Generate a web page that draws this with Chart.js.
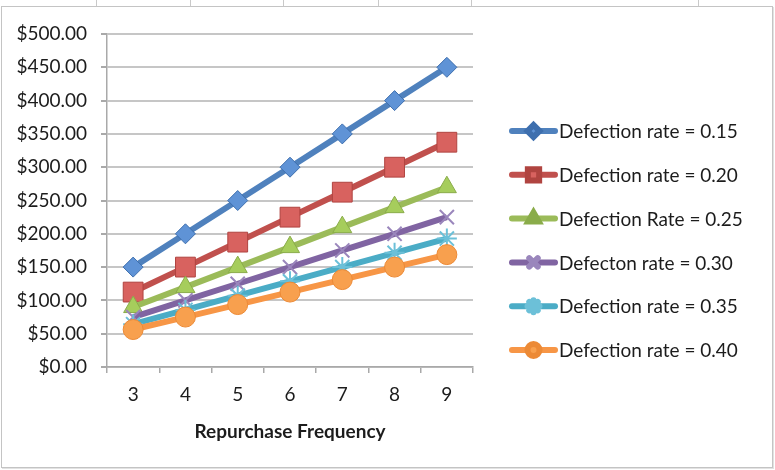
<!DOCTYPE html>
<html>
<head>
<meta charset="utf-8">
<script src="https://cdn.jsdelivr.net/npm/chart.js@4/dist/chart.umd.min.js"></script>
<style>
  html, body { margin: 0; padding: 0; background: #ffffff; }
  #wrap { position: relative; width: 775px; height: 470px; overflow: hidden; background: #fff; }
  .cell { position: absolute; top: 0; width: 1px; height: 6px; background: #c9c9c9; }
  #frame { position: absolute; left: 1px; top: 6px; width: 770px; height: 460px;
           border: 1px solid #c4c4c4; box-shadow: 1px 1px 0 #e2e2e2; }
  canvas { position: absolute; left: 0; top: 0; }
</style>
</head>
<body>
<div id="wrap">
  <div class="cell" style="left:96px"></div>
  <div class="cell" style="left:190px"></div>
  <div class="cell" style="left:283px"></div>
  <div class="cell" style="left:378px"></div>
  <div class="cell" style="left:471px"></div>
  <div class="cell" style="left:698px"></div>
  <div id="frame"></div>
  <canvas id="chart" width="775" height="470"></canvas>
</div>
<script>
// Repurchase frequency (x) and customer value (y) for each defection rate
const frequencies = ['3', '4', '5', '6', '7', '8', '9'];
const seriesNames = [
  'Defection rate = 0.15',
  'Defection rate = 0.20',
  'Defection Rate = 0.25',
  'Defecton rate = 0.30',
  'Defection rate = 0.35',
  'Defection rate = 0.40'
];
const rate15 = [150, 200, 250, 300, 350, 400, 450];
const rate20 = [112.5, 150, 187.5, 225, 262.5, 300, 337.5];
const rate25 = [90, 120, 150, 180, 210, 240, 270];
const rate30 = [75, 100, 125, 150, 175, 200, 225];
const rate35 = [64.29, 85.71, 107.14, 128.57, 150, 171.43, 192.86];
const rate40 = [56.25, 75, 93.75, 112.5, 131.25, 150, 168.75];
const yTicks = [0, 50, 100, 150, 200, 250, 300, 350, 400, 450, 500];

const FONT = 'Lato, "Open Sans", sans-serif';
const TEXT = '#1c1c1c';

const styles = [
  { line: '#4f81bd', fill: '#5f93d6', edge: '#3e6fae', shape: 'rectRot', r: 10, legendR: 6 },
  { line: '#c0504d', fill: '#d8625f', edge: '#b04440', shape: 'rect', r: 14, legendR: 8 },
  { line: '#9bbb59', fill: '#a6cd5c', edge: '#8aac4a', shape: 'triangle', r: 11, legendR: 6 },
  { line: '#8064a2', fill: 'rgba(0,0,0,0)', edge: '#9a86bc', shape: 'crossRot', r: 10, legendR: 6 },
  { line: '#4bacc6', fill: 'rgba(0,0,0,0)', edge: '#6cc0d8', shape: 'star', r: 10, legendR: 6 },
  { line: '#f79646', fill: '#f8a04e', edge: '#ec8a36', shape: 'circle', r: 10, legendR: 6 }
];
const seriesData = [rate15, rate20, rate25, rate30, rate35, rate40];

const datasets = seriesData.map((d, i) => {
  const s = styles[i];
  const stroked = s.shape === 'crossRot' || s.shape === 'star';
  return {
    label: seriesNames[i],
    data: d,
    borderColor: s.line,
    borderWidth: 6,
    tension: 0,
    fill: false,
    order: seriesData.length - i,
    pointStyle: s.shape,
    pointRadius: s.r,
    pointHoverRadius: s.r,
    pointBackgroundColor: s.fill,
    pointBorderColor: s.edge,
    pointBorderWidth: stroked ? 2 : 1
  };
});

// Legend on the right: short line sample with the series marker, then the label
const sideLegend = {
  id: 'sideLegend',
  afterDraw(chart) {
    const ctx = chart.ctx;
    const x0 = 509, x1 = 558, top = 131, step = 43.8;
    ctx.save();
    chart.data.datasets.forEach((ds, i) => {
      const s = styles[i];
      const y = top + i * step;
      ctx.lineCap = 'round';
      ctx.strokeStyle = s.line;
      ctx.lineWidth = 6;
      ctx.beginPath();
      ctx.moveTo(x0 + 3, y);
      ctx.lineTo(x1 - 3, y);
      ctx.stroke();
      ctx.fillStyle = s.fill;
      ctx.strokeStyle = s.edge;
      const stroked = s.shape === 'crossRot' || s.shape === 'star';
      Chart.helpers.drawPoint(ctx, {
        pointStyle: s.shape, radius: s.legendR, rotation: 0,
        borderWidth: stroked ? 1.5 : 1
      }, (x0 + x1) / 2, y);
      ctx.fillStyle = TEXT;
      ctx.font = '19px ' + FONT;
      ctx.textAlign = 'left';
      ctx.textBaseline = 'middle';
      ctx.fillText(ds.label, x1 + 1, y + 1);
    });
    ctx.restore();
  }
};

new Chart(document.getElementById('chart'), {
  type: 'line',
  data: { labels: frequencies, datasets },
  options: {
    responsive: false,
    animation: false,
    devicePixelRatio: 1,
    layout: { padding: { left: 0, right: 302, top: 34, bottom: 0 } },
    plugins: { legend: { display: false }, tooltip: { enabled: false } },
    scales: {
      x: {
        type: 'category',
        offset: true,
        grid: { display: true, drawOnChartArea: false, offset: true, tickLength: 6, color: '#a9a9a9', lineWidth: 1.5 },
        border: { display: true, color: '#a9a9a9', width: 1.5 },
        ticks: { color: TEXT, font: { family: FONT, size: 19 }, padding: 10, maxRotation: 0 },
        title: { display: true, text: 'Repurchase Frequency', color: TEXT,
                 font: { family: FONT, size: 19, weight: 'bold' }, padding: { top: 0, bottom: 27 } },
        afterFit(scale) { scale.height = 103; }
      },
      y: {
        min: 0,
        max: 500,
        afterBuildTicks(scale) { scale.ticks = yTicks.map(v => ({ value: v })); },
        grid: { color: '#c6c6c6', lineWidth: 2, tickLength: 6, tickColor: '#a9a9a9' },
        border: { display: true, color: '#a9a9a9', width: 1.5 },
        ticks: { color: TEXT, font: { family: FONT, size: 19 }, padding: 14,
                 callback: v => '$' + Number(v).toFixed(2) },
        afterFit(scale) { scale.width = 107; }
      }
    }
  },
  plugins: [sideLegend]
});
</script>
</body>
</html>
